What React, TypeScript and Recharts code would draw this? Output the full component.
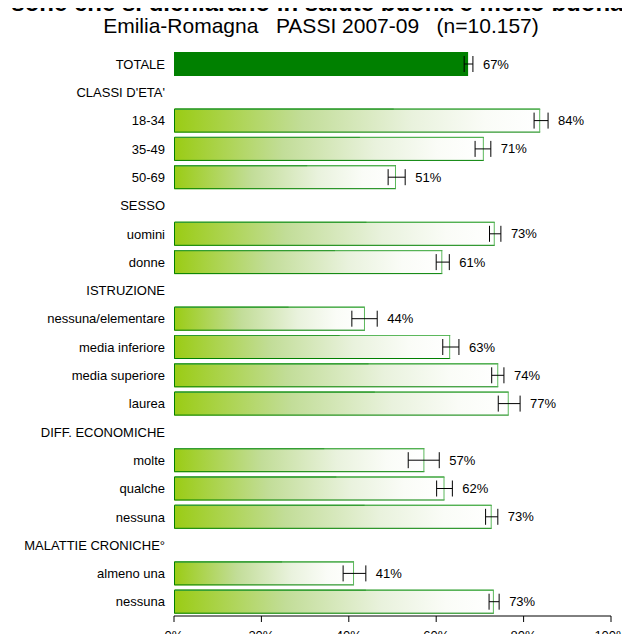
import { BarChart, Bar, XAxis, YAxis, ErrorBar, LabelList } from 'recharts';

// row labels, top to bottom (header rows have no value)
const labels = [
  'TOTALE', "CLASSI D'ETA'", '18-34', '35-49', '50-69', 'SESSO', 'uomini', 'donne',
  'ISTRUZIONE', 'nessuna/elementare', 'media inferiore', 'media superiore', 'laurea',
  'DIFF. ECONOMICHE', 'molte', 'qualche', 'nessuna', 'MALATTIE CRONICHE°', 'almeno una', 'nessuna',
];
const values = [
  67.3, null, 83.8, 70.9, 50.8, null, 73.4, 61.4,
  null, 43.7, 63.2, 74.2, 76.6,
  null, 57.3, 61.9, 72.7, null, 41.2, 73.2,
];
const ciLow = [
  66.4, null, 82.4, 68.9, 49.0, null, 72.2, 60.0,
  null, 40.7, 61.5, 72.7, 74.2,
  null, 53.6, 60.1, 71.3, null, 38.7, 72.1,
];
const ciHigh = [
  68.4, null, 85.6, 72.5, 52.9, null, 74.8, 63.0,
  null, 46.5, 65.2, 75.5, 79.2,
  null, 60.7, 63.7, 74.1, null, 43.9, 74.4,
];
const xTicks = [0, 20, 40, 60, 80, 100];

const data = labels.map((label, i) => ({
  id: i,
  label,
  value: values[i],
  err: values[i] == null ? null : [values[i]! - ciLow[i]!, ciHigh[i]! - values[i]!],
}));

const font = '"Liberation Sans", Arial, sans-serif';

function BarShape(props: any) {
  const { x, y, width, height, payload } = props;
  if (!width || width <= 0) return null;
  const total = payload && payload.id === 0;
  return (
    <g>
      <rect x={x} y={y} width={width} height={height} fill={total ? '#008000' : 'url(#barGrad)'} />
      {!total && (
        <>
          <path d={`M${x + width},${y + 0.5} H${x + 0.5} V${y + height - 0.5} H${x + width}`} fill="none" stroke="#008000" strokeWidth={1} />
          <path d={`M${x + 1},${y + 0.5} H${x + width - 0.5} V${y + height - 0.5}`} fill="none" stroke="#5cb85c" strokeWidth={1} />
          <path d={`M${x + 1},${y + 0.5} H${x + width * 0.6}`} fill="none" stroke="#2e9a2e" strokeWidth={1} />
        </>
      )}
    </g>
  );
}

// value = row id, so the label can find its value and upper CI
function ValueLabel(props: any) {
  const { x, y, width, height, value } = props;
  const v = values[value];
  const hi = ciHigh[value];
  if (v == null || hi == null) return null;
  const pxPerUnit = width / v;
  const tx = x + width + (hi - v) * pxPerUnit + 10;
  return (
    <text x={tx} y={y + height / 2} dy="0.35em" fontSize={13} fontFamily={font} fill="#000">
      {`${Math.round(v)}%`}
    </text>
  );
}

export default function App() {
  return (
    <div style={{ position: 'relative', width: 630, height: 642, margin: -8, overflow: 'hidden', background: '#fff' }}>
      <div style={{ position: 'absolute', top: -9, left: -117, width: 830, textAlign: 'center', fontFamily: font, fontWeight: 'bold', fontSize: 24, lineHeight: '24px', whiteSpace: 'nowrap' }}>
        Persone che si dichiarano in salute buona e molto buona
      </div>
      <div style={{ position: 'absolute', top: 15, left: 6, width: 630, textAlign: 'center', fontFamily: font, fontSize: 21, lineHeight: '21px', whiteSpace: 'pre' }}>
        {'Emilia-Romagna   PASSI 2007-09   (n=10.157)'}
      </div>
      <div style={{ position: 'absolute', top: 0, left: 0 }}>
        <BarChart
          width={630}
          height={642}
          data={data}
          layout="vertical"
          margin={{ top: 50, right: 19, bottom: 0, left: 0 }}
          barCategoryGap={0}
        >
          <defs>
            <linearGradient id="barGrad" x1="0" y1="0" x2="1" y2="0">
              <stop offset="0" stopColor="#9acc14" />
              <stop offset="0.35" stopColor="#c2dd98" />
              <stop offset="0.65" stopColor="#e9f2dd" />
              <stop offset="0.85" stopColor="#fafcf7" />
              <stop offset="1" stopColor="#ffffff" />
            </linearGradient>
          </defs>
          <XAxis
            type="number"
            domain={[0, 100]}
            ticks={xTicks}
            tickFormatter={(v) => `${v}%`}
            stroke="#000"
            tickSize={6}
            tickMargin={9}
            height={26}
            tick={{ fill: '#000', fontSize: 13, fontFamily: font }}
          />
          <YAxis
            type="category"
            dataKey="id"
            tickFormatter={(i) => labels[i]}
            width={174}
            axisLine={false}
            tickLine={false}
            tickSize={0}
            tickMargin={9}
            interval={0}
            tick={{ fill: '#000', fontSize: 13, fontFamily: font }}
          />
          <Bar dataKey="value" barSize={24} shape={<BarShape />} isAnimationActive={false}>
            <ErrorBar dataKey="err" direction="x" width={8} stroke="#000" strokeWidth={1} />
            <LabelList dataKey="id" content={<ValueLabel />} />
          </Bar>
        </BarChart>
      </div>
    </div>
  );
}
